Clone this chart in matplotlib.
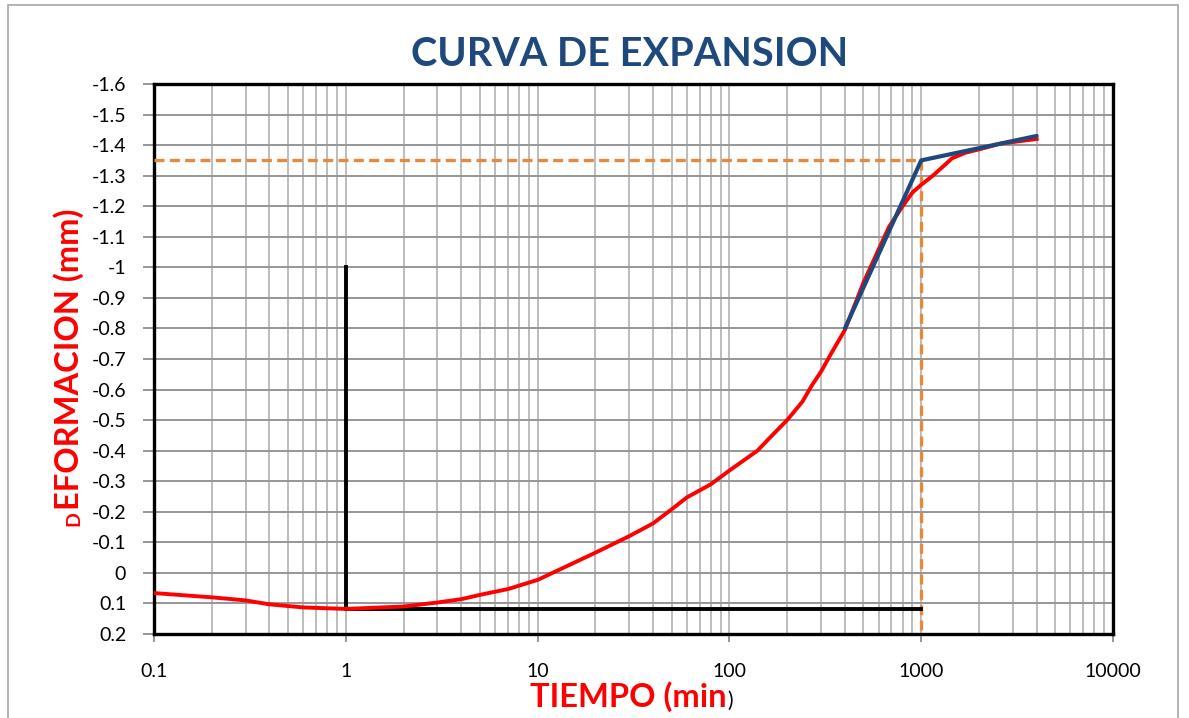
import matplotlib
matplotlib.use("Agg")
import matplotlib.pyplot as plt
from matplotlib.patches import Rectangle
from matplotlib.ticker import FixedLocator, FixedFormatter, LogLocator, NullFormatter

# ---- data ----
tiempo = [0.1, 0.2, 0.3, 0.4, 0.6, 1, 2, 3, 4, 5, 7, 10, 20, 30, 40, 50, 60, 70, 80,
          100, 140, 170, 200, 240, 270, 300, 340, 400, 500, 680, 800, 900, 1000, 1150,
          1300, 1450, 1700, 2000, 2600, 4000]
deformacion = [0.066, 0.08, 0.09, 0.103, 0.113, 0.118, 0.11, 0.097, 0.086, 0.072, 0.053,
               0.023, -0.066, -0.12, -0.162, -0.208, -0.247, -0.27, -0.29, -0.335, -0.40,
               -0.455, -0.50, -0.56, -0.615, -0.658, -0.719, -0.795, -0.95, -1.133, -1.2,
               -1.245, -1.27, -1.30, -1.33, -1.357, -1.375, -1.386, -1.405, -1.42]

tangente_t = [400, 1000, 4000]
tangente_d = [-0.80, -1.35, -1.43]

d100_h_t = [0.1, 1000]
d100_h_d = [-1.35, -1.35]
d100_v_t = [1000, 1000]
d100_v_d = [-1.35, 0.2]

ref_v_t = [1, 1]
ref_v_d = [-1.0, 0.117]
ref_h_t = [1, 1000]
ref_h_d = [0.117, 0.117]

x_ticks = [0.1, 1, 10, 100, 1000, 10000]
x_labels = ["0.1", "1", "10", "100", "1000", "10000"]
y_ticks = [-1.6, -1.5, -1.4, -1.3, -1.2, -1.1, -1.0, -0.9, -0.8, -0.7, -0.6, -0.5,
           -0.4, -0.3, -0.2, -0.1, 0.0, 0.1, 0.2]
y_labels = ["-1.6", "-1.5", "-1.4", "-1.3", "-1.2", "-1.1", "-1", "-0.9", "-0.8", "-0.7",
            "-0.6", "-0.5", "-0.4", "-0.3", "-0.2", "-0.1", "0", "0.1", "0.2"]

titulo = "CURVA DE EXPANSION"

# ---- figure ----
W, H = 1189, 718
plt.rcParams['font.family'] = ['Lato', 'DejaVu Sans']
fig = plt.figure(figsize=(W / 100, H / 100), dpi=100)
fig.patch.set_facecolor('white')

def fx(px):
    return px / W

def fy(py):
    return 1 - py / H

# outer chart border
fig.patches.append(Rectangle((fx(8), fy(730)), fx(1178) - fx(8), fy(5) - fy(730),
                             transform=fig.transFigure, fill=False,
                             edgecolor='#a6a6a6', linewidth=1.2))

ax = fig.add_axes([fx(154), fy(634), fx(1113) - fx(154), fy(84) - fy(634)])
ax.set_xscale('log')
ax.set_xlim(0.1, 10000)
ax.set_ylim(0.2, -1.6)

ax.xaxis.set_major_locator(FixedLocator(x_ticks))
ax.xaxis.set_major_formatter(FixedFormatter(x_labels))
ax.xaxis.set_minor_locator(LogLocator(base=10, subs=range(2, 10), numticks=20))
ax.xaxis.set_minor_formatter(NullFormatter())
ax.yaxis.set_major_locator(FixedLocator(y_ticks))
ax.yaxis.set_major_formatter(FixedFormatter(y_labels))

ax.grid(True, which='major', axis='y', color='#969696', linewidth=1.4, zorder=0)
ax.grid(True, which='both', axis='x', color='#bcbcbc', linewidth=1.4, zorder=0)
ax.set_axisbelow(True)

ax.tick_params(axis='x', which='major', direction='out', length=6, width=1.4,
               color='#969696', pad=15, labelsize=14)
ax.tick_params(axis='x', which='minor', length=0)
ax.tick_params(axis='y', which='major', direction='out', length=8, width=1.4,
               color='#969696', pad=12, labelsize=14)

for s in ax.spines.values():
    s.set_color('black')
    s.set_linewidth(2.4)

# lines
ax.plot(d100_h_t, d100_h_d, color='#e38b3c', linewidth=2.4, dashes=(3, 1.6), zorder=3)
ax.plot(d100_v_t, d100_v_d, color='#e38b3c', linewidth=2.4, dashes=(3, 1.6), zorder=3)
ax.plot(ref_v_t, ref_v_d, color='black', linewidth=2.8, zorder=3)
ax.plot(ref_h_t, ref_h_d, color='black', linewidth=2.8, zorder=3)
ax.plot(tiempo, deformacion, color='#ff0000', linewidth=2.8, zorder=4,
        solid_joinstyle='round')
ax.plot(tangente_t, tangente_d, color='#1f497d', linewidth=3.0, zorder=5,
        solid_capstyle='round')

# title
fig.text(fx(630), fy(54), titulo, ha='center', va='center', fontsize=28.5,
         fontweight='bold', color='#1f497d')

# axis labels
fig.canvas.draw()
r = fig.canvas.get_renderer()

t1 = fig.text(fx(530), fy(707), "TIEMPO (min", ha='left', va='baseline',
              fontsize=23.5, fontweight='bold', color='#ff0000')
bb = t1.get_window_extent(renderer=r)
fig.text(bb.x1 / W + fx(1), fy(707), ")", ha='left', va='baseline',
         fontsize=15, color='black')

d1 = fig.text(fx(79), fy(526), "D", ha='left', va='baseline', rotation=90,
              rotation_mode='anchor', fontsize=14, fontweight='bold', color='#ff0000')
bd = d1.get_window_extent(renderer=r)
fig.text(fx(79), bd.y1 / H + 1.0 / H, "EFORMACION (mm)", ha='left', va='baseline',
         rotation=90, rotation_mode='anchor', fontsize=23.5, fontweight='bold',
         color='#ff0000')

fig.savefig('out.png', dpi=100, facecolor='white')
